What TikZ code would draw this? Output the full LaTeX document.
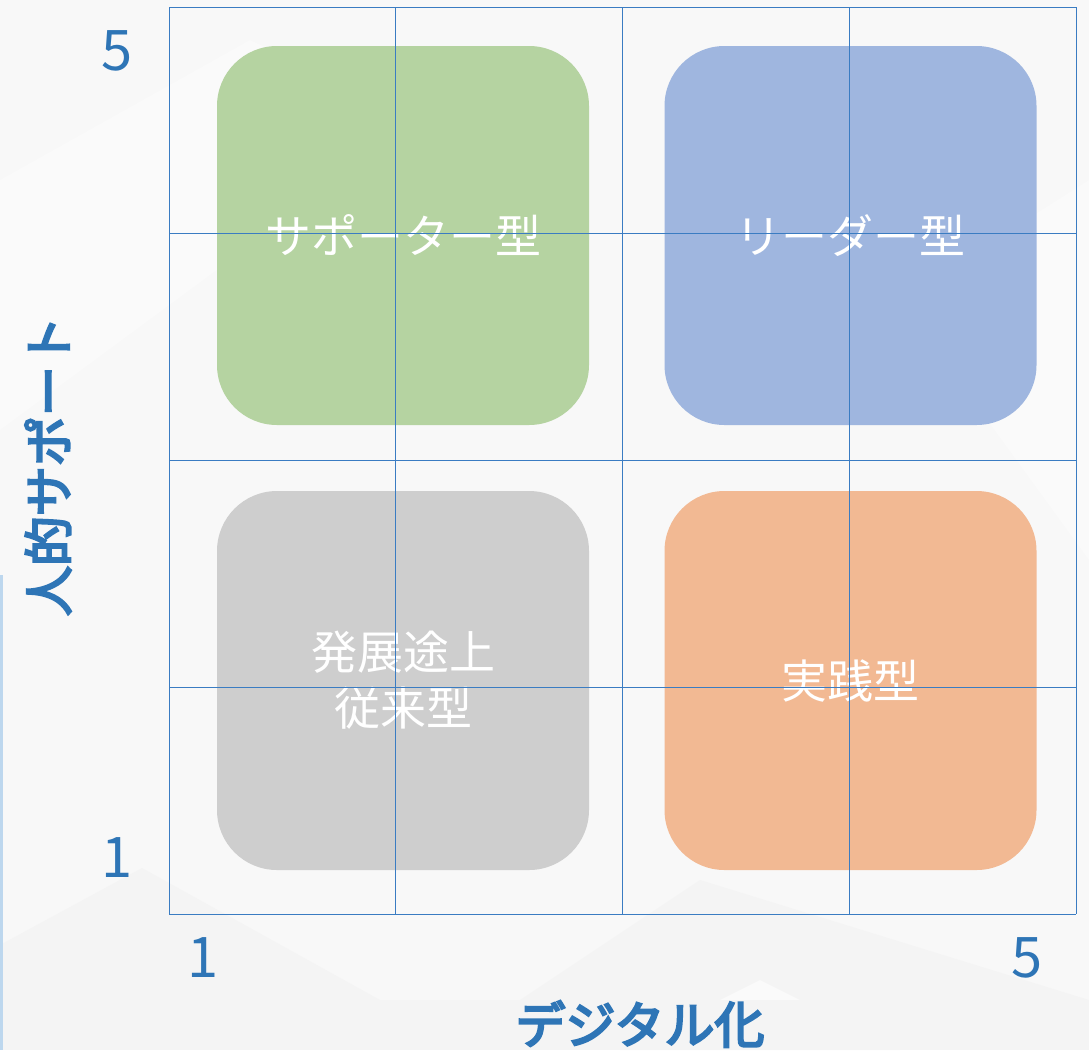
\documentclass[tikz,border=0pt]{standalone}
\usepackage{fontspec}
\setmainfont{Noto Sans CJK JP}
\newfontfamily\axfont{Noto Sans CJK JP}[FakeBold=4.5]
\definecolor{bgc}{HTML}{F8F8F8}
\definecolor{bgd}{HTML}{F4F4F4}
\definecolor{bgl}{HTML}{FAFAFA}
\definecolor{gridc}{HTML}{3A7CC2}
\definecolor{axisc}{HTML}{2E75B6}
\definecolor{greenc}{HTML}{B5D3A1}
\definecolor{bluec}{HTML}{9FB6DF}
\definecolor{grayc}{HTML}{CECECE}
\definecolor{orangec}{HTML}{F2B993}
\definecolor{barc}{HTML}{BDD7EE}
\tikzset{
  quad/.style={minimum width=372pt, minimum height=379pt, rounded corners=60pt,
    inner sep=0pt, text=white, font=\fontsize{46}{56}\selectfont, align=center},
  tick/.style={text=axisc, font=\fontsize{56}{60}\selectfont, inner sep=0pt},
  axlabel/.style={text=axisc, font=\fontsize{50}{60}\selectfont\axfont, inner sep=0pt},
  gridline/.style={draw=gridc, line width=1pt}
}
\begin{document}
\begin{tikzpicture}[x=1pt,y=-1pt]
\useasboundingbox (0,0) rectangle (1089,1050);
% background
\fill[bgc] (0,0) rectangle (1089,1050);
\fill[bgl] (0,180) -- (250,40) -- (420,120) -- (0,430) -- cycle;
\fill[bgd] (0,945) -- (142,868) -- (380,1000) -- (0,1000) -- cycle;
\fill[bgd] (520,1000) -- (700,880) -- (1089,1000) -- cycle;
\fill[bgl] (760,980) -- (900,1050) -- (620,1050) -- cycle;
\fill[bgd] (0,1000) rectangle (1089,1050);
\fill[bgl] (900,300) -- (1089,180) -- (1089,560) -- cycle;
% left bar
\fill[barc] (0,575) rectangle (3,1050);
% quadrant boxes
\node[quad, fill=greenc] (sup) at (403,235.5) {サポーター型};
\node[quad, fill=bluec] (lead) at (850.5,235.5) {リーダー型};
\node[quad, fill=grayc] (dev) at (403,680.5) {発展途上\\従来型};
\node[quad, fill=orangec] (prac) at (850.5,680.5) {実践型};
% grid
\foreach \i in {0,...,4} {
  \draw[gridline] (169+226.75*\i,7) -- (169+226.75*\i,914);
  \draw[gridline] (169,7+226.75*\i) -- (1076,7+226.75*\i);
}
% ticks
\node[tick] (y5) at (117,51) {5};
\node[tick] (y1) at (117,858) {1};
\node[tick] (x1) at (203,958) {1};
\node[tick] (x5) at (1027,958) {5};
% axis labels
\node[axlabel, rotate=90] (ylab) at (48,466) {人的サポート};
\node[axlabel] (xlab) at (640,1024) {デジタル化};
\end{tikzpicture}
\end{document}
